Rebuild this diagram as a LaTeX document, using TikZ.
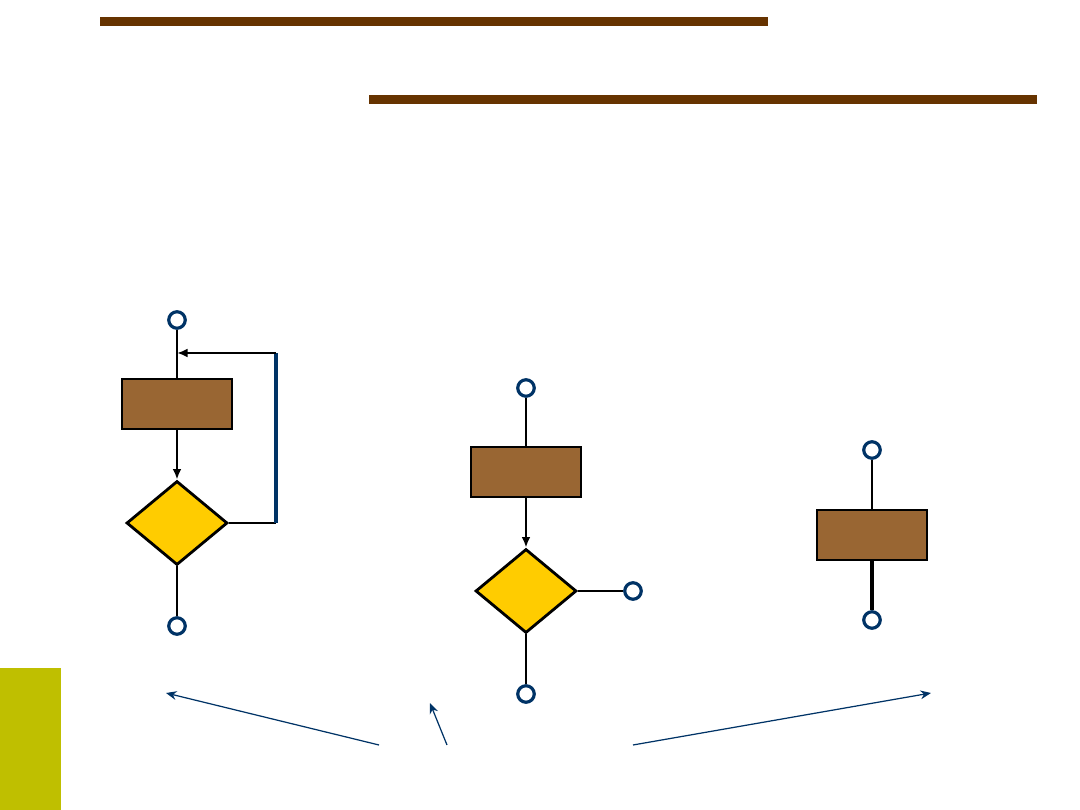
\documentclass[tikz,border=0pt]{standalone}
\usetikzlibrary{shapes.geometric,arrows.meta}
\definecolor{barbrown}{HTML}{663300}
\definecolor{boxbrown}{HTML}{996633}
\definecolor{decgold}{HTML}{FFCC00}
\definecolor{navy}{HTML}{003366}
\definecolor{sideolive}{HTML}{BFBF00}
\begin{document}
\begin{tikzpicture}[x=0.02cm, y=-0.02cm,
  proc/.style={rectangle, draw=black, fill=boxbrown, line width=1.6pt, minimum width=2.2cm, minimum height=1.0cm, inner sep=0pt},
  dec/.style={diamond, draw=black, fill=decgold, line width=1.6pt, minimum width=2.02cm, minimum height=1.68cm, inner sep=0pt},
  term/.style={circle, draw=navy, fill=white, line width=1.8pt, minimum size=0.33cm, inner sep=0pt},
  flow/.style={line width=1.6pt},
  pointer/.style={navy, line width=0.7pt, -{Stealth[length=6pt,width=5pt]}}]
\useasboundingbox (0,0) rectangle (1080,810);
% decoration
\fill[barbrown] (100,17) rectangle (768,26);
\fill[barbrown] (369,95) rectangle (1037,104);
\fill[sideolive] (0,668) rectangle (61,810);
% loop
\node[term] (t1) at (177,320) {};
\node[proc] (p1) at (177,404) {};
\node[dec] (d1) at (177,523) {};
\node[term] (t2) at (177,626) {};
\coordinate (c1) at (276,523);
\coordinate (c2) at (276,353);
\coordinate (j1) at (177,353);
\draw[flow] (t1)--(p1);
\draw[flow,-{Latex[length=6pt,width=5pt]}] (p1)--(d1);
\draw[flow] (d1)--(t2);
\draw[flow] (d1.east)--(c1);
\draw[navy, line width=1.9pt] (c1)--(c2);
\draw[flow,-{Latex[length=6pt,width=5pt]}] (c2)--(j1);
% branch
\node[term] (t3) at (526,388) {};
\node[proc] (p2) at (526,472) {};
\node[dec] (d2) at (526,591) {};
\node[term] (t4) at (633,591) {};
\node[term] (t5) at (526,694) {};
\draw[flow] (t3)--(p2);
\draw[flow,-{Latex[length=6pt,width=5pt]}] (p2)--(d2);
\draw[flow] (d2.east)--(t4);
\draw[flow] (d2)--(t5);
% sequence
\node[term] (t6) at (872,450) {};
\node[proc] (p3) at (872,535) {};
\node[term] (t7) at (872,620) {};
\draw[flow] (t6)--(p3);
\draw[line width=2.3pt] (p3)--(t7);
% pointers
\coordinate (a1) at (379,745);
\coordinate (a2) at (447,745);
\coordinate (a3) at (633,745);
\coordinate (h1) at (166,693);
\coordinate (h2) at (430,703);
\coordinate (h3) at (931,693);
\draw[pointer] (a1)--(h1);
\draw[pointer] (a2)--(h2);
\draw[pointer] (a3)--(h3);
\end{tikzpicture}
\end{document}
